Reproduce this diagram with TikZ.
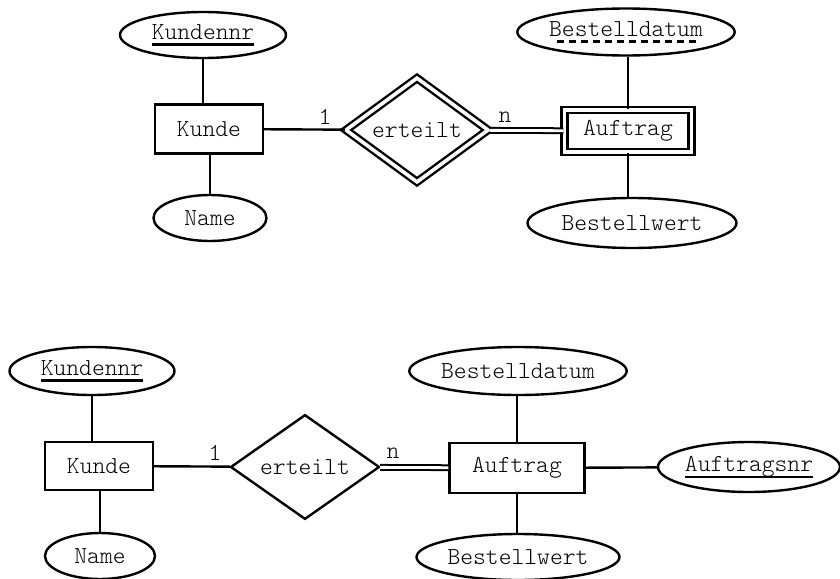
\documentclass[tikz,border=0pt]{standalone}
\usetikzlibrary{shapes}
\usetikzlibrary{calc}

\newlength{\ulwd}
\newcommand{\pkey}[1]{\settowidth{\ulwd}{#1}\rlap{\rule[-3.2pt]{\ulwd}{1.1pt}}#1}
\newcommand{\partkey}[1]{\settowidth{\ulwd}{#1}\rlap{\raisebox{-3.2pt}{\hbox to \ulwd{\cleaders\hbox to 6pt{\hss\vrule width 3.5pt height 1.1pt depth 0pt\hss}\hfill}}}#1}

\begin{document}
\begin{tikzpicture}[x=0.5pt,y=-0.5pt,line width=1.2pt]
\tikzstyle{every node}=[font=\ttfamily\fontseries{l}\fontsize{12.2}{14}\selectfont]
\tikzstyle{entity}=[draw,rectangle,inner sep=0pt]
\tikzstyle{attr}=[draw,ellipse,inner sep=0pt]
\tikzstyle{rel}=[draw,diamond,inner sep=0pt]
\tikzstyle{weak}=[double,double distance=1.8pt]
\tikzstyle{total}=[double,double distance=1.4pt,line width=1pt]
\useasboundingbox (0,0) rectangle (840,578);
% oben: schwache Entity
\node[attr, minimum width=83pt, minimum height=23pt] (kundennr_a) at (203,35) {\pkey{Kundennr}};
\node[entity, minimum width=54pt, minimum height=24.5pt] (kunde_a) at (209,129) {Kunde};
\node[attr, minimum width=56.5pt, minimum height=23pt] (name_a) at (210,218) {Name};
\node[rel, weak, minimum width=71.5pt, minimum height=42.5pt] (erteilt_a) at (417,130) {erteilt};
\node[entity, weak, minimum width=63.5pt, minimum height=20.75pt] (auftrag_a) at (628,131) {Auftrag};
\node[attr, minimum width=106pt, minimum height=23.5pt] (bestelldatum_a) at (626,32) {\partkey{Bestelldatum}};
\node[attr, minimum width=104.5pt, minimum height=25pt] (bestellwert_a) at (632,223) {Bestellwert};
\node (eins_a) at (325,117) {1};
\node (enn_a) at (505,117) {n};
\draw (kundennr_a) -- (kundennr_a |- kunde_a.north);
\draw (name_a) -- (name_a |- kunde_a.south);
\draw (kunde_a) -- (erteilt_a);
\draw[total] (erteilt_a) -- (auftrag_a);
\draw (auftrag_a.north) -- (auftrag_a.north |- bestelldatum_a.south);
\draw (auftrag_a.south) -- (auftrag_a.south |- bestellwert_a.north);
% unten: eigener Schluessel
\node[attr, minimum width=82.5pt, minimum height=24pt] (kundennr_b) at (92,371) {\pkey{Kundennr}};
\node[entity, minimum width=54pt, minimum height=24pt] (kunde_b) at (99,466) {Kunde};
\node[attr, minimum width=55pt, minimum height=23pt] (name_b) at (100,556) {Name};
\node[rel, minimum width=74.5pt, minimum height=45pt] (erteilt_b) at (305,467) {erteilt};
\node[entity, minimum width=67.5pt, minimum height=25pt] (auftrag_b) at (517,468) {Auftrag};
\node[attr, minimum width=108.5pt, minimum height=24pt] (bestelldatum_b) at (518,371) {Bestelldatum};
\node[attr, minimum width=101.5pt, minimum height=23pt] (bestellwert_b) at (518,557) {Bestellwert};
\node[attr, minimum width=91pt, minimum height=25pt] (auftragsnr_b) at (749,467) {\pkey{Auftragsnr}};
\node (eins_b) at (215,453) {1};
\node (enn_b) at (393,453) {n};
\draw (kundennr_b) -- (kundennr_b |- kunde_b.north);
\draw (name_b) -- (name_b |- kunde_b.south);
\draw (kunde_b) -- (erteilt_b);
\draw[total] (erteilt_b) -- (auftrag_b);
\draw (auftrag_b) -- (auftrag_b |- bestelldatum_b.south);
\draw (auftrag_b) -- (auftrag_b |- bestellwert_b.north);
\draw (auftrag_b) -- (auftragsnr_b);
\end{tikzpicture}
\end{document}
